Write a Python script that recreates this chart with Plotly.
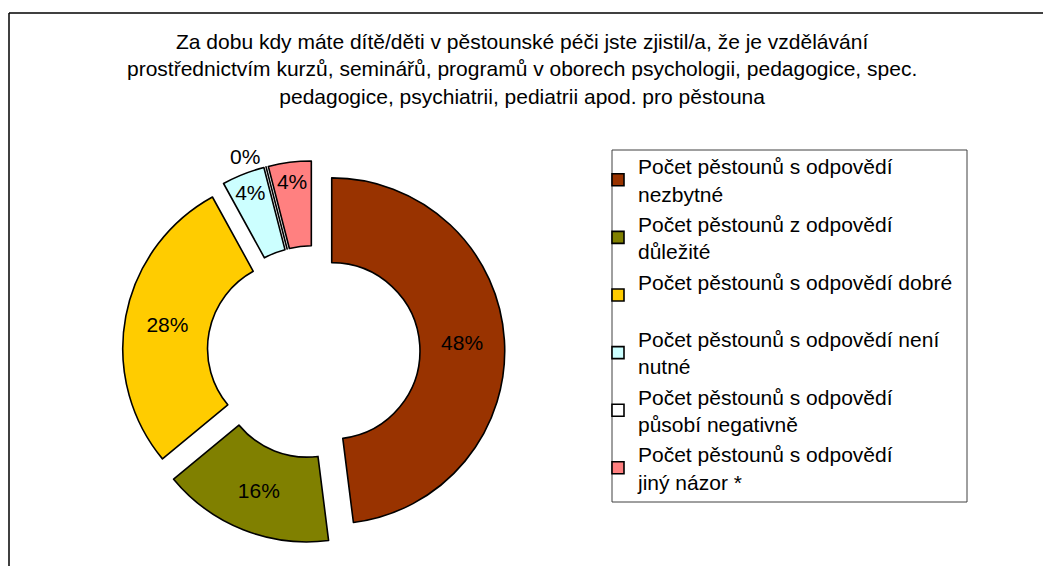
import plotly.graph_objects as go

W, H = 1043, 566

labels = [
    "Počet pěstounů s odpovědí<br>nezbytné",
    "Počet pěstounů z odpovědí<br>důležité",
    "Počet pěstounů s odpovědí dobré<br> ",
    "Počet pěstounů s odpovědí není<br>nutné",
    "Počet pěstounů s odpovědí<br>působí negativně",
    "Počet pěstounů s odpovědí<br>jiný názor *",
]
values = [12, 4, 7, 1, 0, 1]
colors = ["#993300", "#808000", "#FFCC00", "#CCFFFF", "#FFFFFF", "#FF8080"]
text_positions = ["inside", "inside", "inside", "inside", "outside", "inside"]

title_text = ("Za dobu kdy máte dítě/děti v pěstounské péči jste zjistil/a, že je vzdělávání<br>"
              "prostřednictvím kurzů, seminářů, programů v oborech psychologii, pedagogice, spec.<br>"
              "pedagogice, psychiatrii, pediatrii apod. pro pěstouna")

FONT = "Liberation Sans, Arial, sans-serif"


def px(x):
    return x / W


def py(y):
    return 1 - y / H


# pie geometry (pixels, page coordinates)
cx, cy, R, pull = 313.6, 352.0, 173.0, 0.105
half = R * (1 + pull)

fig = go.Figure(go.Pie(
    labels=labels,
    values=values,
    sort=False,
    direction="clockwise",
    rotation=0,
    hole=0.51,
    pull=[pull] * len(values),
    marker=dict(colors=colors, line=dict(color="#000000", width=1.6)),
    textinfo="percent",
    texttemplate="%{percent:.0%}",
    textposition=text_positions,
    insidetextorientation="horizontal",
    textfont=dict(family=FONT, size=21, color="#000000"),
    domain=dict(x=[px(cx - half), px(cx + half)],
                y=[py(cy + half), py(cy - half)]),
    showlegend=True,
    hoverinfo="label+percent",
))

fig.update_layout(
    width=W, height=H, autosize=False,
    margin=dict(l=0, r=0, t=0, b=0, pad=0, autoexpand=False),
    paper_bgcolor="#FFFFFF",
    plot_bgcolor="#FFFFFF",
    font=dict(family=FONT, color="#000000"),
    showlegend=True,
    legend=dict(
        x=px(598), y=py(146), xanchor="left", yanchor="top",
        bgcolor="rgba(0,0,0,0)", borderwidth=0,
        font=dict(family=FONT, size=21, color="#000000"),
        traceorder="normal",
    ),
    annotations=[dict(
        text=title_text, x=px(521.5), y=py(69), xref="paper", yref="paper",
        xanchor="center", yanchor="middle", showarrow=False, align="center",
        font=dict(family=FONT, size=21, color="#000000"),
    )],
    shapes=[
        dict(type="line", xref="paper", yref="paper", x0=px(9), x1=1.01, y0=py(13), y1=py(13),
             line=dict(color="#000000", width=1.5)),
        dict(type="line", xref="paper", yref="paper", x0=px(9), x1=px(9), y0=-0.01, y1=py(13),
             line=dict(color="#000000", width=1.5)),
        dict(type="rect", xref="paper", yref="paper", x0=px(612), x1=px(967),
             y0=py(502), y1=py(150), line=dict(color="#404040", width=1),
             layer="below"),
    ],
)

fig.write_html(
    "out.html",
    config={"responsive": False, "displayModeBar": False},
    post_script="document.body.style.margin='0';document.body.style.overflow='hidden';",
)
